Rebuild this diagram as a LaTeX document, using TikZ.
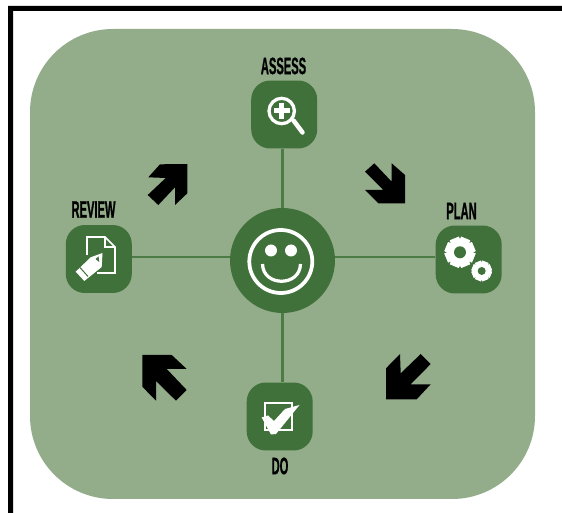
\documentclass[tikz,border=0pt]{standalone}
\usepackage{fontspec}
\usepackage{xcolor}
\newfontfamily\tagfont[FakeStretch=0.47,FakeBold=0.8]{Liberation Sans Bold}
\definecolor{panelgreen}{HTML}{93AC8A}
\definecolor{darkgreen}{HTML}{41713A}
\definecolor{linkgreen}{HTML}{4C7B45}
\tikzset{
	boxnode/.style={fill=darkgreen,rounded corners=0.38cm,minimum width=1.32cm,minimum height=1.36cm,inner sep=0pt},
	hubnode/.style={circle,fill=darkgreen,minimum size=2.1cm,inner sep=0pt},
	tagnode/.style={inner sep=0pt,text=black,font=\tagfont\fontsize{13.5}{13.5}\selectfont},
	linkline/.style={linkgreen,line width=0.045cm},
	iconline/.style={white,line width=0.065cm}
}
\newcommand{\drawgear}[4]{%
	\foreach \a in {0,45,...,315}
		\fill [white,rotate around={\a+#4:(#1,#2)}] (#1-0.34*#3,#2-1.04*#3) rectangle (#1+0.34*#3,#2+1.04*#3);%
	\fill [white] (#1,#2) circle (0.84*#3);%
	\fill [darkgreen] (#1,#2) circle (0.42*#3);%
}
\begin{document}
\begin{tikzpicture}[x=0.02cm,y=-0.02cm]
	\useasboundingbox (0,0) rectangle (562,513);

	% Drawing frame
	\fill [black] (562,6) -- (8,6) -- (8,513) -- (13,513) -- (13,11) -- (562,11) -- cycle;%

	% Drawing panel
	\fill [panelgreen,rounded corners=1.66cm] (30,29) rectangle (535,499);%

	% Marking nodes
	\node [hubnode] (hub) at (282.5,260.5) {};%
	\node [boxnode] (assess) at (284.2,114.5) {};%
	\node [boxnode] (review) at (98.8,259) {};%
	\node [boxnode] (plan) at (468.7,259.5) {};%
	\node [boxnode] (do) at (279.7,416.5) {};%

	% Marking labels
	\node [tagnode] (assesstag) at (283.5,66) {ASSESS};%
	\node [tagnode] (reviewtag) at (93.5,209.5) {REVIEW};%
	\node [tagnode] (plantag) at (461.5,211) {PLAN};%
	\node [tagnode] (dotag) at (280,466) {DO};%

	% Drawing links
	\draw [linkline] (hub.north) -- (hub.north |- assess.south);%
	\draw [linkline] (hub.south) -- (hub.south |- do.north);%
	\draw [linkline] ([yshift=0.04cm]review.east) -- ([yshift=0.04cm]review.east -| hub.west);%
	\draw [linkline] ([yshift=0.05cm]plan.west) -- ([yshift=0.05cm]plan.west -| hub.east);%

	% Drawing arrows
	\fill [black] (187.3,164) -- (160,164.3) -- (148.3,177.3) -- (165.7,178) -- (147.7,195) -- (158.3,205) -- (175,187.3) -- (175,205) -- (187.3,193.3) -- cycle;%
	\fill [black] (405,203.3) -- (405,175) -- (391.7,163.3) -- (391.7,181.7) -- (374.3,163.3) -- (365,171.7) -- (383.3,190) -- (365,190) -- (378.3,203.3) -- cycle;%
	\fill [black] (142.3,355) -- (171.7,355) -- (186.7,369) -- (166.7,369) -- (186.7,390) -- (176,400.7) -- (156,381) -- (156,400.7) -- (142.3,386.7) -- cycle;%
	\fill [black] (386,399.3) -- (386,368.3) -- (400,354) -- (400.7,373.3) -- (420.7,354) -- (430.7,364) -- (410.7,384.3) -- (430.7,384.3) -- (416.7,399.3) -- cycle;%

	% Drawing smiley
	\draw [white,line width=0.075cm] (280.8,261.5) circle (31.5);%
	\fill [white] (271,250.5) circle (6);%
	\fill [white] (291,250.5) circle (6);%
	\draw [iconline] (262.5,264) .. controls (263,287) and (300,287) .. (300.5,264);%

	% Drawing magnifier
	\draw [iconline] (281.7,111) circle (12.7);%
	\fill [white] (279.2,103) rectangle (284.2,119);%
	\fill [white] (273.7,108.5) rectangle (289.7,113.5);%
	\draw [white,line width=0.09cm,line cap=round] (293.5,120.5) -- (302.5,132.5);%

	% Drawing page and pencil
	\draw [white,line width=0.035cm] (87,255) -- (87,237) -- (105,237) -- (115,247) -- (115,273) -- (97,273);%
	\draw [white,line width=0.035cm] (105,237) -- (105,247) -- (115,247);%
	\fill [white] (102.5,253) -- (90.7,257.3) -- (75.7,271.7) -- (84.3,281) -- (101.7,267) -- cycle;%
	\draw [darkgreen,line width=0.02cm] (80,267.5) -- (88,276.5);%
	\fill [darkgreen] (98.5,256.5) -- (95.5,259) -- (99.3,262) -- cycle;%

	% Drawing gears
	\drawgear{460}{252.3}{14.3}{22.5}
	\drawgear{481.7}{271}{9.5}{22.5}

	% Drawing check box
	\draw [white,line width=0.04cm] (264.5,403.5) rectangle (291.5,430);%
	\fill [white] (261.7,417.5) -- (268,415.5) -- (274,421) -- (285,409) -- (299.5,405) -- (276,434) -- (271,434.5) -- cycle;%
\end{tikzpicture}
\end{document}
